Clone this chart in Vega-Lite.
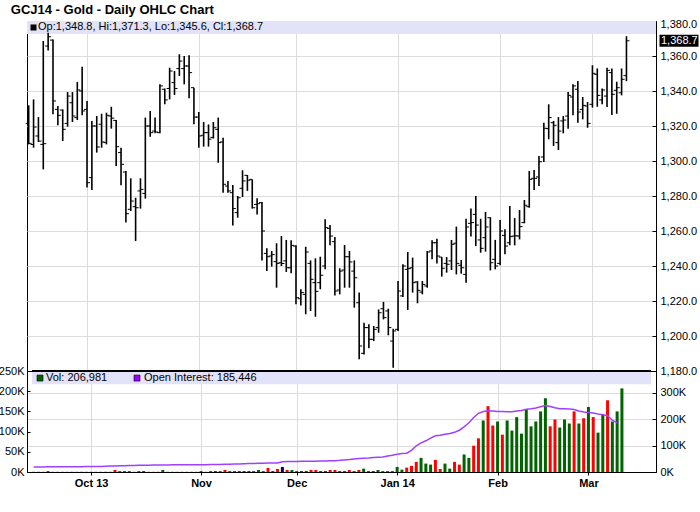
{
  "$schema": "https://vega.github.io/schema/vega-lite/v6.json",
  "background": "white",
  "padding": {"left": -3, "top": 3, "right": 0, "bottom": 4},
  "title": {"text": "GCJ14 - Gold - Daily OHLC Chart", "anchor": "start", "frame": "bounds", "font": "Liberation Sans", "fontSize": 13, "fontWeight": "bold", "color": "black", "offset": 1, "dx": 13},
  "config": {
    "font": "Liberation Sans",
    "view": {"stroke": "black", "strokeWidth": 1},
    "axis": {"labelFont": "Liberation Sans", "labelFontSize": 11, "labelColor": "black", "domainColor": "black", "tickColor": "black", "gridColor": "#dcdcdc", "gridWidth": 1, "labelOverlap": false}
  },
  "datasets": {
    "gc": [
      {"d":"2013-09-13","o":1321.5,"h":1331.8,"l":1309.5,"c":1310.1,"v":500,"oi":19000,"dir":"down"},
      {"d":"2013-09-16","o":1309.5,"h":1335.2,"l":1307.6,"c":1319.4,"v":500,"oi":19200,"dir":"up"},
      {"d":"2013-09-17","o":1314.3,"h":1325.1,"l":1310.9,"c":1311.4,"v":500,"oi":19300,"dir":"down"},
      {"d":"2013-09-18","o":1309.5,"h":1368.6,"l":1295.2,"c":1309.9,"v":2500,"oi":19500,"dir":"down"},
      {"d":"2013-09-19","o":1365.7,"h":1373.3,"l":1363.2,"c":1371.0,"v":500,"oi":19600,"dir":"up"},
      {"d":"2013-09-20","o":1369.1,"h":1369.5,"l":1326.7,"c":1334.3,"v":500,"oi":19700,"dir":"down"},
      {"d":"2013-09-23","o":1329.5,"h":1331.4,"l":1320.4,"c":1326.1,"v":500,"oi":19800,"dir":"down"},
      {"d":"2013-09-24","o":1329.1,"h":1329.5,"l":1311.4,"c":1318.1,"v":500,"oi":19900,"dir":"down"},
      {"d":"2013-09-25","o":1321.5,"h":1339.4,"l":1319.6,"c":1337.1,"v":500,"oi":20000,"dir":"up"},
      {"d":"2013-09-26","o":1333.3,"h":1339.4,"l":1322.3,"c":1325.7,"v":500,"oi":20100,"dir":"down"},
      {"d":"2013-09-27","o":1324.8,"h":1345.2,"l":1323.4,"c":1340.6,"v":500,"oi":20200,"dir":"up"},
      {"d":"2013-09-30","o":1340.0,"h":1353.9,"l":1326.1,"c":1328.6,"v":500,"oi":20400,"dir":"down"},
      {"d":"2013-10-01","o":1329.5,"h":1334.3,"l":1284.8,"c":1287.6,"v":500,"oi":20500,"dir":"down"},
      {"d":"2013-10-02","o":1290.5,"h":1322.9,"l":1283.4,"c":1320.0,"v":500,"oi":20800,"dir":"up"},
      {"d":"2013-10-03","o":1320.0,"h":1325.7,"l":1304.8,"c":1308.0,"v":500,"oi":21200,"dir":"down"},
      {"d":"2013-10-04","o":1321.0,"h":1327.0,"l":1307.6,"c":1310.9,"v":500,"oi":21800,"dir":"up"},
      {"d":"2013-10-07","o":1310.5,"h":1327.6,"l":1309.5,"c":1326.1,"v":500,"oi":22500,"dir":"up"},
      {"d":"2013-10-08","o":1325.7,"h":1331.0,"l":1318.5,"c":1324.5,"v":5000,"oi":23000,"dir":"down"},
      {"d":"2013-10-09","o":1323.2,"h":1323.4,"l":1297.1,"c":1308.2,"v":2500,"oi":23500,"dir":"down"},
      {"d":"2013-10-10","o":1304.8,"h":1307.6,"l":1286.1,"c":1298.1,"v":2500,"oi":24000,"dir":"down"},
      {"d":"2013-10-11","o":1293.7,"h":1294.3,"l":1264.8,"c":1269.9,"v":2500,"oi":24500,"dir":"down"},
      {"d":"2013-10-14","o":1272.4,"h":1290.1,"l":1271.4,"c":1277.1,"v":500,"oi":25000,"dir":"up"},
      {"d":"2013-10-15","o":1273.9,"h":1279.0,"l":1254.3,"c":1273.3,"v":2500,"oi":25300,"dir":"down"},
      {"d":"2013-10-16","o":1282.9,"h":1290.1,"l":1272.8,"c":1283.8,"v":2500,"oi":25600,"dir":"up"},
      {"d":"2013-10-17","o":1281.5,"h":1324.8,"l":1278.5,"c":1320.0,"v":500,"oi":26000,"dir":"up"},
      {"d":"2013-10-18","o":1320.0,"h":1328.6,"l":1313.9,"c":1316.2,"v":500,"oi":26200,"dir":"down"},
      {"d":"2013-10-21","o":1317.1,"h":1324.8,"l":1315.8,"c":1316.6,"v":500,"oi":26400,"dir":"up"},
      {"d":"2013-10-22","o":1316.2,"h":1343.8,"l":1315.8,"c":1342.9,"v":5000,"oi":26600,"dir":"up"},
      {"d":"2013-10-23","o":1341.0,"h":1341.4,"l":1332.4,"c":1334.9,"v":500,"oi":26800,"dir":"down"},
      {"d":"2013-10-24","o":1341.4,"h":1353.3,"l":1335.2,"c":1351.4,"v":500,"oi":27000,"dir":"up"},
      {"d":"2013-10-25","o":1344.8,"h":1351.4,"l":1337.7,"c":1341.4,"v":500,"oi":27200,"dir":"down"},
      {"d":"2013-10-28","o":1352.8,"h":1361.0,"l":1348.6,"c":1357.1,"v":500,"oi":27300,"dir":"up"},
      {"d":"2013-10-29","o":1352.8,"h":1360.0,"l":1343.8,"c":1354.3,"v":500,"oi":27400,"dir":"down"},
      {"d":"2013-10-30","o":1354.3,"h":1360.4,"l":1335.8,"c":1350.5,"v":500,"oi":27500,"dir":"down"},
      {"d":"2013-10-31","o":1341.9,"h":1341.9,"l":1321.0,"c":1325.1,"v":500,"oi":27600,"dir":"down"},
      {"d":"2013-11-01","o":1325.1,"h":1328.0,"l":1307.6,"c":1314.3,"v":2500,"oi":27700,"dir":"down"},
      {"d":"2013-11-04","o":1314.7,"h":1322.3,"l":1308.2,"c":1316.2,"v":500,"oi":27800,"dir":"up"},
      {"d":"2013-11-05","o":1316.2,"h":1320.9,"l":1308.2,"c":1312.5,"v":2500,"oi":28000,"dir":"down"},
      {"d":"2013-11-06","o":1313.5,"h":1322.3,"l":1312.8,"c":1319.0,"v":2500,"oi":28300,"dir":"up"},
      {"d":"2013-11-07","o":1318.1,"h":1324.8,"l":1299.0,"c":1310.5,"v":2500,"oi":28700,"dir":"down"},
      {"d":"2013-11-08","o":1310.9,"h":1313.3,"l":1281.9,"c":1286.7,"v":5000,"oi":29200,"dir":"down"},
      {"d":"2013-11-11","o":1285.7,"h":1288.6,"l":1281.9,"c":1282.9,"v":2500,"oi":29700,"dir":"down"},
      {"d":"2013-11-12","o":1281.9,"h":1286.3,"l":1263.2,"c":1272.8,"v":2500,"oi":30200,"dir":"down"},
      {"d":"2013-11-13","o":1270.5,"h":1280.0,"l":1267.6,"c":1279.0,"v":2500,"oi":30700,"dir":"up"},
      {"d":"2013-11-14","o":1284.4,"h":1294.7,"l":1279.4,"c":1288.6,"v":2500,"oi":31200,"dir":"up"},
      {"d":"2013-11-15","o":1291.8,"h":1292.0,"l":1282.9,"c":1289.0,"v":2500,"oi":31700,"dir":"up"},
      {"d":"2013-11-18","o":1289.5,"h":1289.5,"l":1272.8,"c":1273.3,"v":2500,"oi":32200,"dir":"down"},
      {"d":"2013-11-19","o":1275.2,"h":1278.7,"l":1269.5,"c":1275.6,"v":5000,"oi":32700,"dir":"up"},
      {"d":"2013-11-20","o":1276.2,"h":1276.6,"l":1243.2,"c":1260.0,"v":2500,"oi":33200,"dir":"down"},
      {"d":"2013-11-21","o":1247.2,"h":1250.1,"l":1237.1,"c":1245.3,"v":10000,"oi":33700,"dir":"down"},
      {"d":"2013-11-22","o":1245.7,"h":1248.6,"l":1239.6,"c":1246.5,"v":2500,"oi":34000,"dir":"up"},
      {"d":"2013-11-25","o":1242.5,"h":1253.0,"l":1227.6,"c":1241.5,"v":7500,"oi":34500,"dir":"down"},
      {"d":"2013-11-26","o":1241.9,"h":1257.1,"l":1240.0,"c":1241.5,"v":12500,"oi":39000,"dir":"flat"},
      {"d":"2013-11-27","o":1242.9,"h":1254.9,"l":1236.6,"c":1239.0,"v":5000,"oi":39500,"dir":"down"},
      {"d":"2013-11-29","o":1239.0,"h":1254.7,"l":1235.8,"c":1251.8,"v":5000,"oi":39800,"dir":"up"},
      {"d":"2013-12-02","o":1251.4,"h":1251.8,"l":1218.1,"c":1221.9,"v":2500,"oi":40000,"dir":"down"},
      {"d":"2013-12-03","o":1221.3,"h":1226.7,"l":1217.5,"c":1224.8,"v":2500,"oi":40200,"dir":"up"},
      {"d":"2013-12-04","o":1223.8,"h":1251.0,"l":1212.4,"c":1248.0,"v":2500,"oi":40400,"dir":"up"},
      {"d":"2013-12-05","o":1241.5,"h":1243.2,"l":1214.3,"c":1232.4,"v":5000,"oi":40600,"dir":"down"},
      {"d":"2013-12-06","o":1230.5,"h":1244.4,"l":1211.0,"c":1225.5,"v":5000,"oi":40800,"dir":"down"},
      {"d":"2013-12-09","o":1230.5,"h":1245.3,"l":1226.7,"c":1234.7,"v":2500,"oi":41200,"dir":"up"},
      {"d":"2013-12-10","o":1240.0,"h":1266.7,"l":1238.1,"c":1261.9,"v":2500,"oi":41700,"dir":"up"},
      {"d":"2013-12-11","o":1261.5,"h":1263.4,"l":1251.8,"c":1257.1,"v":5000,"oi":42300,"dir":"down"},
      {"d":"2013-12-12","o":1253.9,"h":1256.6,"l":1223.2,"c":1225.7,"v":5000,"oi":43000,"dir":"down"},
      {"d":"2013-12-13","o":1226.3,"h":1238.7,"l":1223.8,"c":1237.1,"v":2500,"oi":44000,"dir":"up"},
      {"d":"2013-12-16","o":1237.7,"h":1252.0,"l":1227.6,"c":1245.3,"v":2500,"oi":45500,"dir":"up"},
      {"d":"2013-12-17","o":1245.3,"h":1248.6,"l":1227.6,"c":1242.3,"v":5000,"oi":47000,"dir":"down"},
      {"d":"2013-12-18","o":1237.1,"h":1243.2,"l":1216.2,"c":1233.3,"v":2500,"oi":49400,"dir":"down"},
      {"d":"2013-12-19","o":1219.0,"h":1224.8,"l":1186.7,"c":1194.3,"v":5000,"oi":50700,"dir":"down"},
      {"d":"2013-12-20","o":1190.1,"h":1207.6,"l":1189.5,"c":1204.8,"v":8300,"oi":52000,"dir":"up"},
      {"d":"2013-12-23","o":1204.8,"h":1206.7,"l":1193.0,"c":1198.1,"v":2500,"oi":53000,"dir":"down"},
      {"d":"2013-12-24","o":1198.1,"h":1205.7,"l":1197.1,"c":1203.8,"v":2500,"oi":54500,"dir":"up"},
      {"d":"2013-12-26","o":1204.8,"h":1215.2,"l":1201.9,"c":1213.3,"v":5000,"oi":55700,"dir":"up"},
      {"d":"2013-12-27","o":1215.6,"h":1219.5,"l":1209.5,"c":1210.5,"v":2500,"oi":57000,"dir":"down"},
      {"d":"2013-12-30","o":1214.3,"h":1215.6,"l":1200.4,"c":1204.8,"v":2500,"oi":60800,"dir":"down"},
      {"d":"2013-12-31","o":1197.1,"h":1204.2,"l":1181.9,"c":1202.9,"v":2500,"oi":63400,"dir":"down"},
      {"d":"2014-01-02","o":1203.8,"h":1231.4,"l":1202.9,"c":1225.7,"v":12500,"oi":67000,"dir":"up"},
      {"d":"2014-01-03","o":1222.9,"h":1241.0,"l":1222.3,"c":1240.0,"v":5800,"oi":69700,"dir":"up"},
      {"d":"2014-01-06","o":1238.1,"h":1248.0,"l":1214.9,"c":1238.5,"v":10800,"oi":71000,"dir":"down"},
      {"d":"2014-01-07","o":1239.0,"h":1244.8,"l":1224.8,"c":1230.5,"v":15000,"oi":82000,"dir":"down"},
      {"d":"2014-01-08","o":1230.9,"h":1231.4,"l":1218.7,"c":1226.1,"v":25000,"oi":99000,"dir":"down"},
      {"d":"2014-01-09","o":1225.1,"h":1231.4,"l":1223.8,"c":1229.5,"v":35000,"oi":110000,"dir":"up"},
      {"d":"2014-01-10","o":1228.6,"h":1248.6,"l":1227.6,"c":1248.0,"v":20800,"oi":118000,"dir":"up"},
      {"d":"2014-01-13","o":1248.6,"h":1254.7,"l":1243.8,"c":1253.3,"v":18300,"oi":128000,"dir":"up"},
      {"d":"2014-01-14","o":1253.3,"h":1255.6,"l":1241.5,"c":1245.7,"v":30000,"oi":137000,"dir":"down"},
      {"d":"2014-01-15","o":1245.1,"h":1245.1,"l":1233.9,"c":1238.7,"v":7500,"oi":139000,"dir":"down"},
      {"d":"2014-01-16","o":1241.5,"h":1245.1,"l":1236.2,"c":1241.0,"v":20800,"oi":143000,"dir":"up"},
      {"d":"2014-01-17","o":1242.9,"h":1254.9,"l":1237.7,"c":1252.4,"v":8300,"oi":146000,"dir":"up"},
      {"d":"2014-01-21","o":1253.0,"h":1262.5,"l":1235.2,"c":1241.5,"v":25000,"oi":150000,"dir":"down"},
      {"d":"2014-01-22","o":1240.4,"h":1243.4,"l":1235.6,"c":1239.0,"v":18300,"oi":158000,"dir":"down"},
      {"d":"2014-01-23","o":1235.2,"h":1267.0,"l":1230.5,"c":1262.3,"v":43300,"oi":171000,"dir":"up"},
      {"d":"2014-01-24","o":1264.4,"h":1272.8,"l":1256.8,"c":1264.8,"v":35000,"oi":186000,"dir":"up"},
      {"d":"2014-01-27","o":1269.5,"h":1280.0,"l":1251.4,"c":1263.4,"v":65000,"oi":206000,"dir":"down"},
      {"d":"2014-01-28","o":1254.9,"h":1267.0,"l":1247.6,"c":1250.1,"v":83300,"oi":222000,"dir":"down"},
      {"d":"2014-01-29","o":1256.2,"h":1270.9,"l":1248.2,"c":1262.3,"v":127500,"oi":229000,"dir":"up"},
      {"d":"2014-01-30","o":1267.6,"h":1267.8,"l":1237.5,"c":1241.9,"v":163000,"oi":232000,"dir":"down"},
      {"d":"2014-01-31","o":1243.8,"h":1254.9,"l":1238.1,"c":1240.0,"v":115000,"oi":231000,"dir":"down"},
      {"d":"2014-02-03","o":1241.5,"h":1266.3,"l":1240.4,"c":1260.0,"v":125000,"oi":229000,"dir":"up"},
      {"d":"2014-02-04","o":1257.5,"h":1261.0,"l":1246.7,"c":1251.4,"v":92500,"oi":229000,"dir":"down"},
      {"d":"2014-02-05","o":1253.3,"h":1274.3,"l":1251.8,"c":1256.8,"v":127500,"oi":228000,"dir":"up"},
      {"d":"2014-02-06","o":1257.1,"h":1267.4,"l":1251.8,"c":1257.3,"v":102500,"oi":228000,"dir":"up"},
      {"d":"2014-02-07","o":1257.1,"h":1272.0,"l":1255.2,"c":1262.5,"v":135800,"oi":231000,"dir":"up"},
      {"d":"2014-02-10","o":1264.8,"h":1277.7,"l":1264.4,"c":1274.7,"v":95000,"oi":233000,"dir":"up"},
      {"d":"2014-02-11","o":1273.9,"h":1294.3,"l":1273.3,"c":1289.5,"v":155000,"oi":237000,"dir":"up"},
      {"d":"2014-02-12","o":1290.1,"h":1294.9,"l":1283.4,"c":1290.1,"v":113000,"oi":239000,"dir":"up"},
      {"d":"2014-02-13","o":1290.9,"h":1302.9,"l":1285.7,"c":1299.6,"v":125000,"oi":242000,"dir":"up"},
      {"d":"2014-02-14","o":1302.3,"h":1321.9,"l":1299.4,"c":1318.7,"v":150000,"oi":247000,"dir":"up"},
      {"d":"2014-02-18","o":1318.5,"h":1332.4,"l":1312.4,"c":1324.8,"v":182500,"oi":251000,"dir":"up"},
      {"d":"2014-02-19","o":1321.9,"h":1322.9,"l":1308.6,"c":1320.4,"v":113000,"oi":248000,"dir":"down"},
      {"d":"2014-02-20","o":1310.5,"h":1325.1,"l":1306.3,"c":1317.1,"v":130000,"oi":243000,"dir":"down"},
      {"d":"2014-02-21","o":1322.9,"h":1325.7,"l":1315.8,"c":1323.4,"v":110000,"oi":239000,"dir":"up"},
      {"d":"2014-02-24","o":1325.7,"h":1339.4,"l":1318.5,"c":1337.5,"v":130000,"oi":239000,"dir":"up"},
      {"d":"2014-02-25","o":1336.6,"h":1343.8,"l":1326.1,"c":1342.9,"v":120000,"oi":238000,"dir":"up"},
      {"d":"2014-02-26","o":1341.0,"h":1345.7,"l":1321.9,"c":1328.0,"v":150000,"oi":236000,"dir":"down"},
      {"d":"2014-02-27","o":1329.5,"h":1336.6,"l":1323.8,"c":1331.8,"v":120000,"oi":231000,"dir":"up"},
      {"d":"2014-02-28","o":1331.4,"h":1333.7,"l":1319.0,"c":1321.5,"v":133000,"oi":227000,"dir":"down"},
      {"d":"2014-03-03","o":1332.4,"h":1354.7,"l":1330.5,"c":1350.1,"v":161000,"oi":225000,"dir":"up"},
      {"d":"2014-03-04","o":1349.5,"h":1352.9,"l":1331.0,"c":1337.5,"v":136000,"oi":223000,"dir":"down"},
      {"d":"2014-03-05","o":1334.9,"h":1341.5,"l":1332.4,"c":1340.6,"v":97500,"oi":219000,"dir":"up"},
      {"d":"2014-03-06","o":1337.1,"h":1353.3,"l":1330.9,"c":1351.8,"v":142500,"oi":217000,"dir":"up"},
      {"d":"2014-03-07","o":1350.5,"h":1352.9,"l":1326.3,"c":1338.1,"v":177500,"oi":213000,"dir":"down"},
      {"d":"2014-03-10","o":1340.4,"h":1345.3,"l":1327.0,"c":1341.9,"v":125000,"oi":196000,"dir":"up"},
      {"d":"2014-03-11","o":1339.0,"h":1352.9,"l":1337.5,"c":1346.7,"v":150000,"oi":185446,"dir":"up"},
      {"d":"2014-03-12","o":1348.8,"h":1371.3,"l":1345.6,"c":1368.7,"v":206981,"oi":null,"dir":"up"}
    ]
  },
  "spacing": 0,
  "bounds": "flush",
  "vconcat": [
    {
      "width": 629,
      "height": 350,
      "data": {"name": "gc"},
      "transform": [{"window": [{"op": "row_number", "as": "n"}], "sort": [{"field": "d"}]}],
      "encoding": {
        "x": {"field": "n", "type": "quantitative", "title": null,
              "scale": {"domain": [0.65, 130.08], "nice": false, "zero": false},
              "axis": {"values": [13, 36, 56, 77, 98, 117], "labels": false, "ticks": false, "domain": false, "grid": true, "title": null}}
      },
      "layer": [
        {
          "transform": [{"filter": "datum.n == 1"}],
          "mark": {"type": "rect", "fill": "#e2e2f9"},
          "encoding": {"x": {"datum": 0.65}, "x2": {"datum": 130.08},
                       "y": {"datum": 1380, "scale": {"domain": [1180, 1380], "nice": false, "zero": false}, "axis": null}, "y2": {"datum": 1372.57}}
        },
        {
          "transform": [{"filter": "datum.n == 1"}],
          "mark": {"type": "point", "shape": "square", "filled": true, "color": "black", "size": 36, "opacity": 1, "xOffset": 6.5},
          "encoding": {"x": {"datum": 0.65}, "y": {"datum": 1376.3, "scale": {"domain": [1180, 1380], "nice": false, "zero": false}, "axis": null}}
        },
        {
          "transform": [{"filter": "datum.n == 1"}],
          "mark": {"type": "text", "align": "left", "baseline": "middle", "dx": 11, "fontSize": 11, "font": "Liberation Sans", "color": "black"},
          "encoding": {"x": {"datum": 0.65}, "y": {"datum": 1376.3, "scale": {"domain": [1180, 1380], "nice": false, "zero": false}, "axis": null}, "text": {"value": "Op:1,348.8, Hi:1,371.3, Lo:1,345.6, Cl:1,368.7"}}
        },
        {
          "mark": {"type": "rule", "color": "black", "strokeWidth": 1.6},
          "encoding": {
            "y": {"field": "l", "type": "quantitative", "title": null,
                  "scale": {"domain": [1180, 1380], "nice": false, "zero": false},
                  "axis": {"orient": "right", "values": [1180, 1200, 1220, 1240, 1260, 1280, 1300, 1320, 1340, 1360, 1380], "format": ",.1f", "tickSize": -4, "labelPadding": 8, "grid": true, "title": null, "labelOverlap": false, "labelOffset": {"condition": {"test": "datum.value == 1380", "value": 3}, "value": 0}}},
            "y2": {"field": "h"}
          }
        },
        {
          "mark": {"type": "tick", "orient": "horizontal", "size": 3, "thickness": 1, "xOffset": -1.5, "color": "black", "opacity": 1},
          "encoding": {"y": {"field": "o", "type": "quantitative", "title": null, "scale": {"domain": [1180, 1380], "nice": false, "zero": false}, "axis": null}}
        },
        {
          "mark": {"type": "tick", "orient": "horizontal", "size": 3, "thickness": 1, "xOffset": 1.5, "color": "black", "opacity": 1},
          "encoding": {"y": {"field": "c", "type": "quantitative", "title": null, "scale": {"domain": [1180, 1380], "nice": false, "zero": false}, "axis": null}}
        },
        {
          "transform": [{"filter": "datum.n == 124"}],
          "mark": {"type": "tick", "orient": "vertical", "thickness": 39, "size": 12, "xOffset": 23, "color": "black", "opacity": 1},
          "encoding": {"x": {"datum": 130.08}, "y": {"field": "c", "type": "quantitative", "title": null, "scale": {"domain": [1180, 1380], "nice": false, "zero": false}, "axis": null}}
        },
        {
          "transform": [{"filter": "datum.n == 124"}],
          "mark": {"type": "text", "align": "left", "baseline": "middle", "dx": 5, "fontSize": 11, "font": "Liberation Sans", "color": "white"},
          "encoding": {"x": {"datum": 130.08}, "y": {"field": "c", "type": "quantitative", "title": null, "scale": {"domain": [1180, 1380], "nice": false, "zero": false}, "axis": null}, "text": {"field": "c", "type": "quantitative", "format": ",.1f"}}
        }
      ],
      "resolve": {"scale": {"y": "independent"}, "axis": {"y": "independent"}}
    },
    {
      "width": 629,
      "height": 101,
      "data": {"name": "gc"},
      "transform": [{"window": [{"op": "row_number", "as": "n"}], "sort": [{"field": "d"}]}],
      "encoding": {
        "x": {"field": "n", "type": "quantitative", "title": null,
              "scale": {"domain": [0.65, 130.08], "nice": false, "zero": false},
              "axis": {"values": [13, 36, 56, 77, 98, 117], "title": null, "grid": true, "tickSize": 3, "labelPadding": 2, "labelFontWeight": "bold", "labelFlush": false, "labelOverlap": false,
                       "labelExpr": "datum.value == 13 ? 'Oct 13' : datum.value == 36 ? 'Nov' : datum.value == 56 ? 'Dec' : datum.value == 77 ? 'Jan 14' : datum.value == 98 ? 'Feb' : 'Mar'"}}
      },
      "layer": [
        {
          "transform": [{"filter": "datum.n == 1"}],
          "mark": {"type": "rect", "fill": "#e2e2f9"},
          "encoding": {"x": {"datum": 0.65}, "x2": {"datum": 130.08},
                       "y": {"datum": 250000, "scale": {"domain": [0, 250000], "nice": false}, "axis": null}, "y2": {"datum": 217500}}
        },
        {
          "mark": {"type": "bar", "orient": "vertical", "width": 3},
          "encoding": {
            "y": {"field": "v", "type": "quantitative", "title": null,
                  "scale": {"domain": [0, 250000], "nice": false},
                  "axis": {"orient": "left", "values": [0, 50000, 100000, 150000, 200000, 250000], "labelExpr": "(datum.value / 1000) + 'K'", "tickSize": -3, "labelPadding": 6, "grid": false, "title": null, "labelOverlap": false}},
            "color": {"field": "dir", "type": "nominal", "legend": null,
                      "scale": {"domain": ["up", "down", "flat"], "range": ["#006400", "#ff0000", "#000080"]}}
          }
        },
        {
          "transform": [{"filter": "datum.n == 1"}],
          "mark": {"type": "point", "shape": "square", "filled": true, "color": "#006400", "stroke": "black", "strokeWidth": 0.6, "size": 36, "opacity": 1, "xOffset": 8},
          "encoding": {"x": {"datum": 0.65}, "y": {"datum": 232500, "scale": {"domain": [0, 250000], "nice": false}, "axis": null}}
        },
        {
          "transform": [{"filter": "datum.n == 1"}],
          "mark": {"type": "text", "align": "left", "baseline": "middle", "dx": 14, "fontSize": 11, "font": "Liberation Sans", "color": "black"},
          "encoding": {"x": {"datum": 0.65}, "y": {"datum": 232500, "scale": {"domain": [0, 250000], "nice": false}, "axis": null}, "text": {"value": "Vol: 206,981"}}
        },
        {
          "transform": [{"filter": "datum.n == 1"}],
          "mark": {"type": "point", "shape": "square", "filled": true, "color": "#9900ff", "stroke": "black", "strokeWidth": 0.6, "size": 36, "opacity": 1, "xOffset": 105},
          "encoding": {"x": {"datum": 0.65}, "y": {"datum": 232500, "scale": {"domain": [0, 250000], "nice": false}, "axis": null}}
        },
        {
          "transform": [{"filter": "datum.n == 1"}],
          "mark": {"type": "text", "align": "left", "baseline": "middle", "dx": 112, "fontSize": 11, "font": "Liberation Sans", "color": "black"},
          "encoding": {"x": {"datum": 0.65}, "y": {"datum": 232500, "scale": {"domain": [0, 250000], "nice": false}, "axis": null}, "text": {"value": "Open Interest: 185,446"}}
        },
        {
          "transform": [{"filter": "datum.n == 1"}],
          "mark": {"type": "rule", "color": "black", "strokeWidth": 2},
          "encoding": {"x": {"datum": 0.65}, "x2": {"datum": 130.08}, "y": {"datum": 250000, "scale": {"domain": [0, 250000], "nice": false}, "axis": null}}
        },
        {
          "mark": {"type": "line", "color": "#a040ff", "strokeWidth": 1.5},
          "encoding": {
            "y": {"field": "oi", "type": "quantitative", "title": null,
                  "scale": {"domain": [0, 382000], "nice": false},
                  "axis": {"orient": "right", "values": [0, 100000, 200000, 300000], "labelExpr": "(datum.value / 1000) + 'K'", "tickSize": -4, "labelPadding": 8, "grid": true, "title": null, "labelOverlap": false}}
          }
        }
      ],
      "resolve": {"scale": {"y": "independent"}, "axis": {"y": "independent"}}
    }
  ]
}
